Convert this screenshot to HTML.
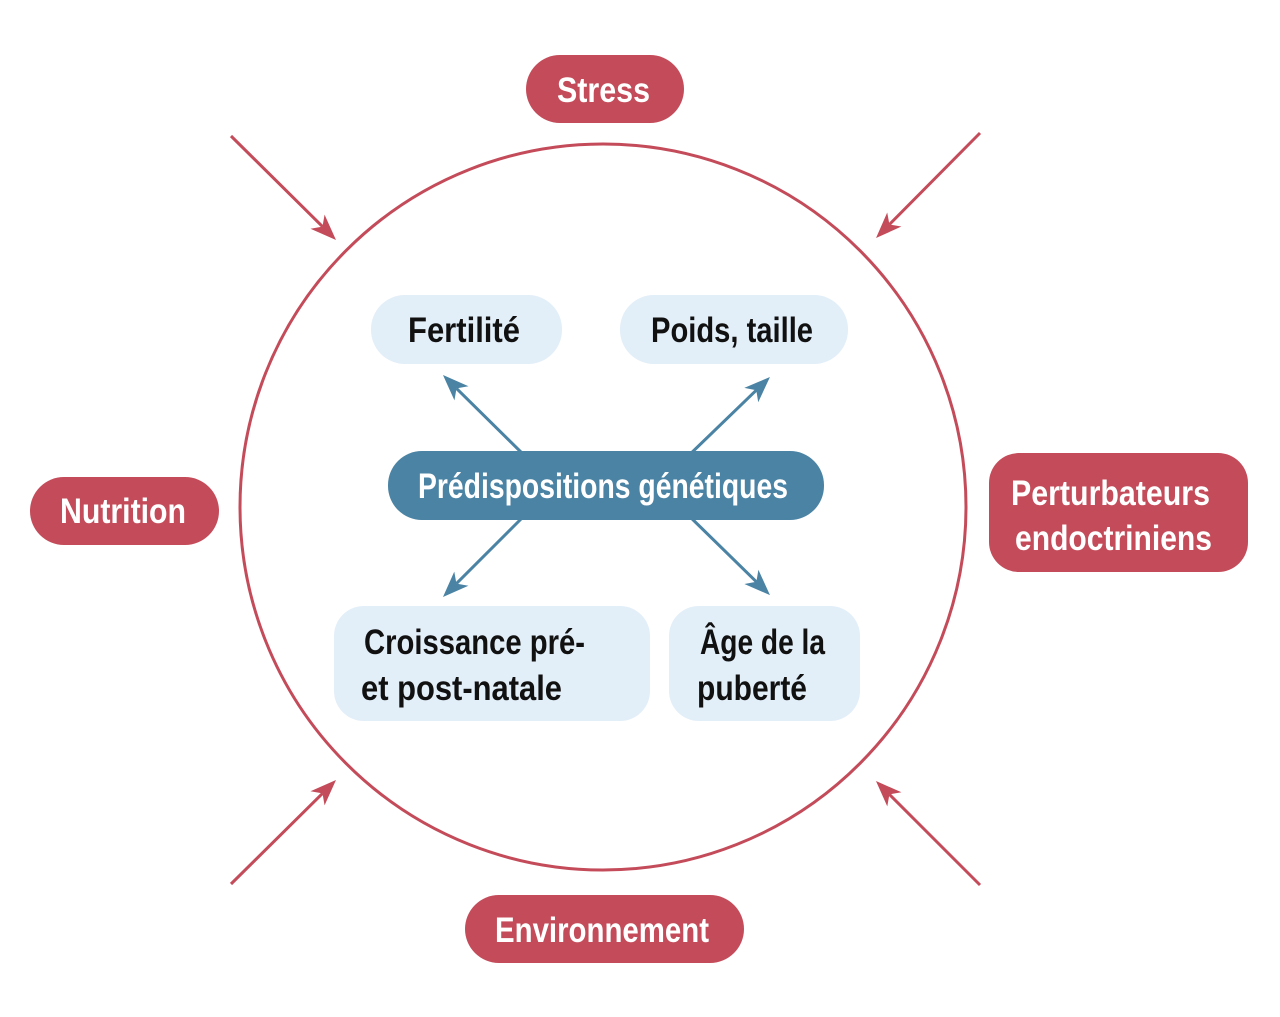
<!DOCTYPE html>
<html><head><meta charset="utf-8"><style>
html,body{margin:0;padding:0;background:#fff;}
svg{display:block;}
text{font-family:"Liberation Sans",sans-serif;font-weight:bold;font-size:35px;}
.w{fill:#fff;}
.d{fill:#111;}
</style></head><body>
<svg width="1280" height="1017" viewBox="0 0 1280 1017" xmlns="http://www.w3.org/2000/svg">
<defs>
<marker id="ar" viewBox="-8 -12 30 24" refX="0" refY="0" markerWidth="30" markerHeight="24" markerUnits="userSpaceOnUse" orient="auto">
<path d="M19,0 L-7,-10 L0,0 L-7,10 Z" fill="#c44b59"/>
</marker>
<marker id="ab" viewBox="-8 -12 30 24" refX="0" refY="0" markerWidth="30" markerHeight="24" markerUnits="userSpaceOnUse" orient="auto">
<path d="M19,0 L-7,-10 L0,0 L-7,10 Z" fill="#4a83a4"/>
</marker>
</defs>
<rect width="1280" height="1017" fill="#fff"/>
<circle cx="603" cy="507" r="363" fill="none" stroke="#c44b59" stroke-width="3"/>

<!-- red arrows -->
<g stroke="#c44b59" stroke-width="3" fill="none">
<line x1="231" y1="136" x2="322.5" y2="226.6" marker-end="url(#ar)"/>
<line x1="980" y1="133" x2="889.4" y2="224.5" marker-end="url(#ar)"/>
<line x1="231" y1="884" x2="322.5" y2="793.4" marker-end="url(#ar)"/>
<line x1="980" y1="885" x2="889.4" y2="794.4" marker-end="url(#ar)"/>
</g>

<!-- blue arrows -->
<g stroke="#4a83a4" stroke-width="3" fill="none">
<line x1="530" y1="461" x2="456.5" y2="388.4" marker-end="url(#ab)"/>
<line x1="683" y1="461" x2="756.3" y2="390.2" marker-end="url(#ab)"/>
<line x1="530" y1="510" x2="456.4" y2="583.6" marker-end="url(#ab)"/>
<line x1="683" y1="510" x2="756.4" y2="581.8" marker-end="url(#ab)"/>
</g>

<!-- red boxes -->
<g fill="#c44b59">
<rect x="526" y="55" width="158" height="68" rx="34"/>
<rect x="30" y="477" width="189" height="68" rx="34"/>
<rect x="989" y="453" width="259" height="119" rx="30"/>
<rect x="465" y="895" width="279" height="68" rx="34"/>
</g>
<text class="w" x="557" y="102" textLength="93" lengthAdjust="spacingAndGlyphs">Stress</text>
<text class="w" x="60" y="523" textLength="126" lengthAdjust="spacingAndGlyphs">Nutrition</text>
<text class="w" x="1011" y="505" textLength="199" lengthAdjust="spacingAndGlyphs">Perturbateurs</text>
<text class="w" x="1015" y="550" textLength="197" lengthAdjust="spacingAndGlyphs">endoctriniens</text>
<text class="w" x="495" y="942" textLength="214" lengthAdjust="spacingAndGlyphs">Environnement</text>

<!-- light blue boxes -->
<g fill="#e2eef8">
<rect x="371" y="295" width="191" height="69" rx="34"/>
<rect x="620" y="295" width="228" height="69" rx="34"/>
<rect x="334" y="606" width="316" height="115" rx="30"/>
<rect x="669" y="606" width="191" height="115" rx="30"/>
</g>
<text class="d" x="408" y="342" textLength="112" lengthAdjust="spacingAndGlyphs">Fertilité</text>
<text class="d" x="651" y="342" textLength="162" lengthAdjust="spacingAndGlyphs">Poids, taille</text>
<text class="d" x="364" y="654" textLength="221" lengthAdjust="spacingAndGlyphs">Croissance pré-</text>
<text class="d" x="361" y="700" textLength="201" lengthAdjust="spacingAndGlyphs">et post-natale</text>
<text class="d" x="700" y="654" textLength="125" lengthAdjust="spacingAndGlyphs">Âge de la</text>
<text class="d" x="697" y="700" textLength="110" lengthAdjust="spacingAndGlyphs">puberté</text>

<!-- central box -->
<rect x="388" y="451" width="436" height="69" rx="34" fill="#4a83a4"/>
<text class="w" x="418" y="498" textLength="370" lengthAdjust="spacingAndGlyphs">Prédispositions génétiques</text>
</svg>
</body></html>
